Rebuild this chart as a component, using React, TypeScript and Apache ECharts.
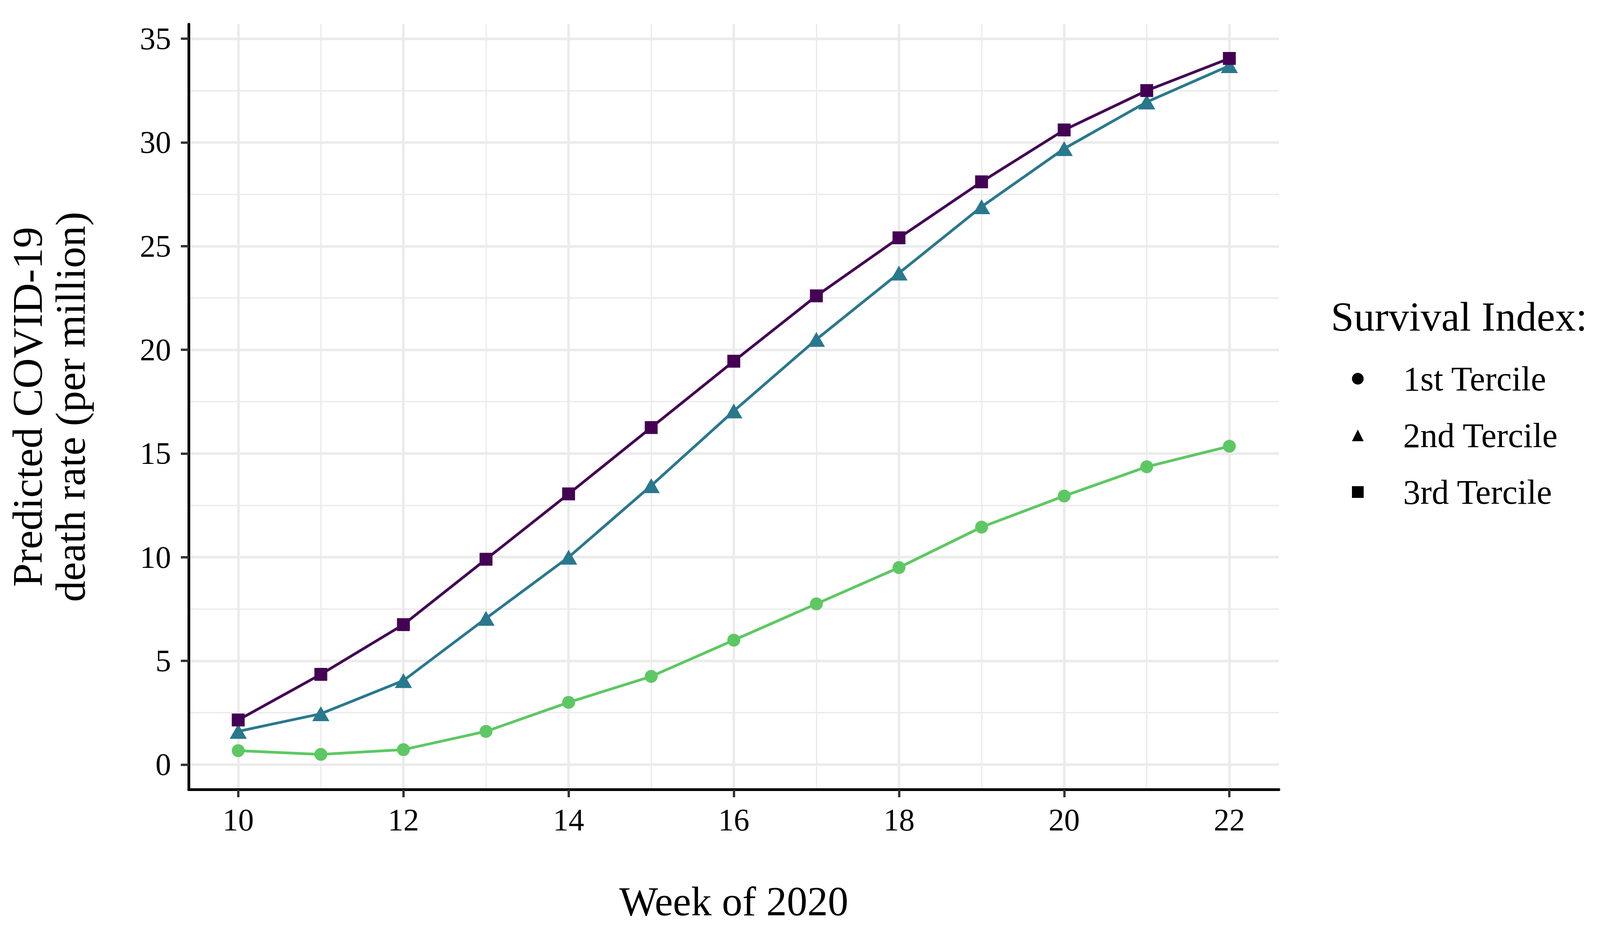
import React, { useEffect, useRef } from "react";
import * as echarts from "echarts";

const weeks = [10, 11, 12, 13, 14, 15, 16, 17, 18, 19, 20, 21, 22];
const tercile1 = [0.67, 0.49, 0.72, 1.6, 3.0, 4.25, 6.0, 7.75, 9.5, 11.45, 12.95, 14.36, 15.35];
const tercile2 = [1.6, 2.45, 4.05, 7.05, 10.0, 13.45, 17.05, 20.5, 23.7, 26.9, 29.7, 31.95, 33.7];
const tercile3 = [2.15, 4.35, 6.75, 9.9, 13.05, 16.25, 19.45, 22.6, 25.4, 28.1, 30.6, 32.5, 34.05];
const seriesNames = ["1st Tercile", "2nd Tercile", "3rd Tercile"];
const xTicks = [10, 12, 14, 16, 18, 20, 22];
const xMinor = [11, 13, 15, 17, 19, 21];
const yTicks = [0, 5, 10, 15, 20, 25, 30, 35];
const yMinor = [2.5, 7.5, 12.5, 17.5, 22.5, 27.5, 32.5];

const FONT = "Liberation Serif";
const GRID = "#EBEBEB";

export default function App() {
  const ref = useRef<HTMLDivElement>(null);
  useEffect(() => {
    document.body.style.margin = "0";
    const chart = echarts.init(ref.current!, null, { renderer: "svg" });
    const pair = (ys: number[]) => weeks.map((w, i) => [w, ys[i]]);
    const gridLines = [
      ...xTicks.map((v) => ({ xAxis: v, lineStyle: { width: 6.5, color: GRID, type: "solid" } })),
      ...xMinor.map((v) => ({ xAxis: v, lineStyle: { width: 3.3, color: GRID, type: "solid" } })),
      ...yTicks.map((v) => ({ yAxis: v, lineStyle: { width: 6.5, color: GRID, type: "solid" } })),
      ...yMinor.map((v) => ({ yAxis: v, lineStyle: { width: 3.3, color: GRID, type: "solid" } })),
    ];
    const mk = (name: string, data: number[], color: string, symbol: string, size: any) => ({
      name,
      type: "line",
      data: pair(data),
      symbol,
      symbolSize: size,
      showAllSymbol: true,
      lineStyle: { color, width: 7 },
      itemStyle: { color, borderWidth: 0, borderColor: color },
      emphasis: { disabled: true },
      z: 3,
    });
    chart.setOption({
      animation: false,
      backgroundColor: "#ffffff",
      grid: { left: 483, right: 850, top: 62, bottom: 375, containLabel: false },
      title: {
        text: "Survival Index:",
        left: 3402,
        top: 752,
        textStyle: { fontFamily: FONT, fontSize: 106, fontWeight: "normal", color: "#000" },
      },
      legend: {
        orient: "vertical",
        left: 3456,
        top: 920,
        itemWidth: 30,
        itemHeight: 30,
        itemGap: 57,
        textStyle: { fontFamily: FONT, fontSize: 88, color: "#000", padding: [0, 0, 0, 96] },
        data: [
          { name: seriesNames[0], icon: "circle", itemStyle: { color: "#000" } },
          { name: seriesNames[1], icon: "triangle", itemStyle: { color: "#000" } },
          { name: seriesNames[2], icon: "rect", itemStyle: { color: "#000" } },
        ],
      },
      xAxis: {
        type: "value",
        min: 9.4,
        max: 22.6,
        name: "Week of 2020",
        nameLocation: "middle",
        nameGap: 234,
        nameTextStyle: { fontFamily: FONT, fontSize: 105, color: "#000" },
        axisLine: { show: true, onZero: false, lineStyle: { color: "#000", width: 7 } },
        axisTick: { show: true, length: 20, customValues: xTicks, lineStyle: { color: "#333", width: 6 } },
        axisLabel: { customValues: xTicks, margin: 38, fontFamily: FONT, fontSize: 80, color: "#000" },
        splitLine: { show: false },
      },
      yAxis: {
        type: "value",
        min: -1.2,
        max: 35.7,
        name: "Predicted COVID-19\ndeath rate (per million)",
        nameLocation: "middle",
        nameRotate: 90,
        nameGap: 248,
        nameTextStyle: { fontFamily: FONT, fontSize: 108, lineHeight: 110, color: "#000" },
        axisLine: { show: true, onZero: false, lineStyle: { color: "#000", width: 7 } },
        axisTick: { show: true, length: 20, customValues: yTicks, lineStyle: { color: "#333", width: 6 } },
        axisLabel: { customValues: yTicks, margin: 45, fontFamily: FONT, fontSize: 80, color: "#000" },
        splitLine: { show: false },
      },
      series: [
        {
          name: "grid",
          type: "line",
          data: [],
          z: 0,
          silent: true,
          markLine: {
            silent: true,
            z: 0,
            symbol: ["none", "none"],
            label: { show: false },
            emphasis: { disabled: true },
            animation: false,
            data: gridLines,
          },
        },
        mk(seriesNames[0], tercile1, "#5DC863", "circle", 33),
        mk(seriesNames[1], tercile2, "#29788E", "triangle", [44, 38]),
        mk(seriesNames[2], tercile3, "#440154", "rect", 33),
      ],
    });
    return () => chart.dispose();
  }, []);
  return <div ref={ref} style={{ width: 4124, height: 2395 }} />;
}
